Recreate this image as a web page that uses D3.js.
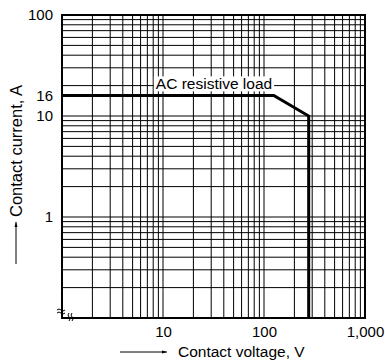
<!DOCTYPE html>
<html>
<head>
<meta charset="utf-8">
<script src="https://cdn.jsdelivr.net/npm/d3@7"></script>
<style>
  body { margin: 0; background: #fff; }
  svg text { font-family: "Liberation Sans", Arial, sans-serif; fill: #000; }
</style>
</head>
<body>
<div id="chart"></div>
<script>
// load curve: contact voltage (V) vs contact current (A)
var curveVoltage = [1, 125, 277, 277];
var curveCurrent = [16, 16, 10, 0.1];
var curveLabel = "AC resistive load";

var xTicks = [10, 100, 1000];
var xTickLabels = ["10", "100", "1,000"];
var yTicks = [1, 10, 16, 100];
var yTickLabels = ["1", "10", "16", "100"];

var xDomain = [1, 1000];
var yDomain = [0.1, 100];

var width = 385, height = 362;
var margin = {left: 62, right: 20, top: 15, bottom: 44};

var svg = d3.select("#chart").append("svg")
  .attr("width", width).attr("height", height);

var x = d3.scaleLog().domain(xDomain).range([margin.left, width - margin.right]);
var y = d3.scaleLog().domain(yDomain).range([height - margin.bottom, margin.top]);

// grid lines 1..9 per decade
function gridValues(domain) {
  var vals = [];
  for (var d = domain[0]; d < domain[1]; d *= 10) {
    for (var k = 1; k <= 9; k++) vals.push(d * k);
  }
  return vals;
}

svg.append("g").selectAll("line").data(gridValues(xDomain)).enter().append("line")
  .attr("x1", d => x(d)).attr("x2", d => x(d))
  .attr("y1", y(yDomain[0])).attr("y2", y(yDomain[1]))
  .attr("stroke", "#000").attr("stroke-width", 1);

svg.append("g").selectAll("line").data(gridValues(yDomain)).enter().append("line")
  .attr("y1", d => y(d)).attr("y2", d => y(d))
  .attr("x1", x(xDomain[0])).attr("x2", x(xDomain[1]))
  .attr("stroke", "#000").attr("stroke-width", 1);

// frame
svg.append("rect")
  .attr("x", x(xDomain[0])).attr("y", y(yDomain[1]))
  .attr("width", x(xDomain[1]) - x(xDomain[0]))
  .attr("height", y(yDomain[0]) - y(yDomain[1]))
  .attr("fill", "none").attr("stroke", "#000").attr("stroke-width", 2);

// curve
var pts = curveVoltage.map((v, i) => [v, curveCurrent[i]]);
svg.append("path").datum(pts)
  .attr("d", d3.line().x(d => x(d[0])).y(d => y(d[1])))
  .attr("fill", "none").attr("stroke", "#000").attr("stroke-width", 3)
  .attr("stroke-linejoin", "miter");

// curve label with white box
var lbl = svg.append("text")
  .attr("x", x(32)).attr("y", y(16) - 6)
  .attr("text-anchor", "middle").style("font-size", "15.5px")
  .text(curveLabel);
var bb = lbl.node().getBBox();
svg.insert("rect", function() { return lbl.node(); })
  .attr("x", bb.x - 2).attr("y", bb.y + 1)
  .attr("width", bb.width + 4).attr("height", bb.height - 2)
  .attr("fill", "#fff");

// axes
var xAxis = svg.append("g")
  .attr("transform", "translate(0," + (y(yDomain[0]) + 5) + ")")
  .call(d3.axisBottom(x).tickValues(xTicks).tickSize(0)
    .tickFormat((d, i) => xTickLabels[i]));
xAxis.select(".domain").remove();
xAxis.selectAll("text").style("font-size", "15px")
  .style("font-family", "'Liberation Sans', Arial, sans-serif").attr("fill", "#000");

var yAxis = svg.append("g")
  .attr("transform", "translate(" + (x(xDomain[0]) - 6) + ",0)")
  .call(d3.axisLeft(y).tickValues(yTicks).tickSize(0)
    .tickFormat((d, i) => yTickLabels[i]));
yAxis.select(".domain").remove();
yAxis.selectAll("text").style("font-size", "15px")
  .style("font-family", "'Liberation Sans', Arial, sans-serif").attr("fill", "#000");

// break marks at the origin corner
var brk = svg.append("g").attr("fill", "none").attr("stroke", "#000").attr("stroke-width", 1);
brk.append("path").attr("d", "M57,310 q2,-2 4,0 t4,0 M57,313 q2,-2 4,0 t4,0");
brk.append("path").attr("d", "M69,313 q-2,2 0,4 t0,4 M72,313 q-2,2 0,4 t0,4");

// axis titles with arrows
svg.append("defs").append("marker")
  .attr("id", "arr").attr("viewBox", "0 0 10 10").attr("refX", 10).attr("refY", 5)
  .attr("markerWidth", 5).attr("markerHeight", 5).attr("orient", "auto")
  .append("path").attr("d", "M0,2L10,5L0,8Z").attr("fill", "#000");

svg.append("line").attr("x1", 120).attr("x2", 167).attr("y1", 352).attr("y2", 352)
  .attr("stroke", "#000").attr("stroke-width", 1).attr("marker-end", "url(#arr)");
svg.append("text").attr("x", 178).attr("y", 357).style("font-size", "15.5px")
  .text("Contact voltage, V");

svg.append("line").attr("x1", 16).attr("x2", 16).attr("y1", 264).attr("y2", 222)
  .attr("stroke", "#000").attr("stroke-width", 1).attr("marker-end", "url(#arr)");
svg.append("text").attr("transform", "translate(22,217) rotate(-90)")
  .style("font-size", "16.5px").text("Contact current, A");
</script>
</body>
</html>
